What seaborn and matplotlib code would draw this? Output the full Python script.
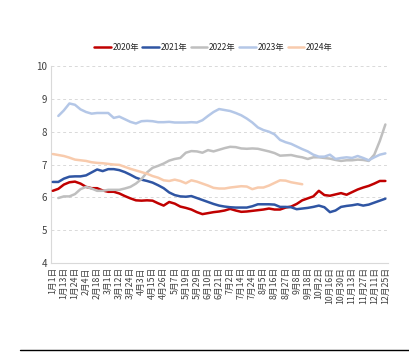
import numpy as np
import pandas as pd
import matplotlib
matplotlib.use("Agg")
import matplotlib.pyplot as plt
from matplotlib.lines import Line2D
import seaborn as sns

tick_labels = ["1月1日", "1月13日", "1月24日", "2月4日", "2月18日", "3月1日", "3月12日", "3月24日",
               "4月3日", "4月15日", "4月26日", "5月7日", "5月19日", "5月29日", "6月10日", "6月21日",
               "7月2日", "7月14日", "7月24日", "8月5日", "8月16日", "8月27日", "9月8日", "9月18日",
               "10月2日", "10月16日", "10月30日", "11月13日", "11月27日", "12月11日", "12月25日"]

nan = np.nan
y2020 = [6.20, 6.26, 6.39, 6.46, 6.48, 6.42, 6.32, 6.28, 6.28, 6.21, 6.17, 6.17, 6.12, 6.04, 5.97, 5.91,
         5.90, 5.91, 5.90, 5.82, 5.75, 5.86, 5.81, 5.72, 5.68, 5.63, 5.55, 5.49, 5.52, 5.55, 5.57, 5.60,
         5.65, 5.60, 5.56, 5.57, 5.59, 5.61, 5.63, 5.66, 5.63, 5.63, 5.69, 5.72, 5.80, 5.91, 5.97, 6.03,
         6.20, 6.07, 6.05, 6.09, 6.13, 6.08, 6.16, 6.24, 6.30, 6.35, 6.42, 6.50, 6.50]
y2021 = [6.47, 6.47, 6.57, 6.63, 6.64, 6.64, 6.67, 6.76, 6.85, 6.80, 6.86, 6.86, 6.83, 6.77, 6.69, 6.60,
         6.54, 6.50, 6.45, 6.37, 6.28, 6.15, 6.07, 6.03, 6.02, 6.04, 5.98, 5.92, 5.86, 5.80, 5.75, 5.72,
         5.70, 5.69, 5.69, 5.69, 5.73, 5.79, 5.79, 5.79, 5.78, 5.71, 5.71, 5.70, 5.64, 5.66, 5.68, 5.71,
         5.75, 5.70, 5.55, 5.60, 5.71, 5.74, 5.76, 5.79, 5.75, 5.78, 5.84, 5.90, 5.96]
y2022 = [nan, 5.98, 6.03, 6.03, 6.10, 6.25, 6.32, 6.27, 6.20, 6.20, 6.23, 6.23, 6.23, 6.27, 6.32, 6.42,
         6.56, 6.76, 6.90, 6.96, 7.03, 7.12, 7.17, 7.20, 7.36, 7.41, 7.40, 7.36, 7.44, 7.40, 7.45, 7.50,
         7.54, 7.53, 7.49, 7.48, 7.49, 7.48, 7.44, 7.40, 7.35, 7.27, 7.28, 7.29, 7.25, 7.22, 7.17, 7.22,
         7.22, 7.20, 7.18, 7.14, 7.11, 7.13, 7.13, 7.15, 7.14, 7.11, 7.30, 7.72, 8.22]
y2023 = [nan, 8.48, 8.65, 8.86, 8.82, 8.68, 8.60, 8.55, 8.57, 8.57, 8.57, 8.42, 8.46, 8.38, 8.30, 8.25,
         8.32, 8.33, 8.32, 8.29, 8.29, 8.30, 8.28, 8.28, 8.28, 8.29, 8.28, 8.35, 8.48, 8.60, 8.69, 8.66,
         8.63, 8.57, 8.50, 8.40, 8.28, 8.13, 8.05, 8.00, 7.92, 7.75, 7.68, 7.63, 7.55, 7.47, 7.40, 7.30,
         7.24, 7.24, 7.30, 7.17, 7.20, 7.22, 7.20, 7.26, 7.20, 7.13, 7.22, 7.30, 7.34]
y2024 = [7.32, 7.29, 7.26, 7.21, 7.15, 7.13, 7.11, 7.07, 7.05, 7.04, 7.02, 7.00, 6.99, 6.93, 6.87, 6.82,
         6.77, 6.72, 6.65, 6.60, 6.52, 6.50, 6.54, 6.50, 6.43, 6.52, 6.48, 6.42, 6.36, 6.29, 6.27, 6.27,
         6.30, 6.32, 6.34, 6.33, 6.25, 6.30, 6.30, 6.36, 6.44, 6.52, 6.51, 6.46, 6.43, 6.40] + [nan] * 15

series_names = ["2020年", "2021年", "2022年", "2023年", "2024年"]
series_values = [y2020, y2021, y2022, y2023, y2024]
colors = ["#C00000", "#2F55A3", "#BFBFBF", "#B4C7E7", "#F8CBAD"]

rows = []
for name, vals in zip(series_names, series_values):
    for i, v in enumerate(vals):
        rows.append({"idx": i, "value": v, "year": name})
df = pd.DataFrame(rows)

sns.set_style("white")
plt.rcParams['font.family'] = ['Noto Sans CJK SC', 'DejaVu Sans']

fig = plt.figure(figsize=(4.09, 3.55), dpi=100)
ax = fig.add_axes([0.125, 0.259, 0.824, 0.555])

sns.lineplot(data=df, x="idx", y="value", hue="year", hue_order=series_names,
             palette=dict(zip(series_names, colors)), linewidth=1.8, ax=ax, legend=False,
             zorder=3)

ax.set_xlim(-0.3, 60.5)
ax.set_ylim(4, 10)
ax.set_yticks(range(4, 11))
ax.set_yticklabels([str(v) for v in range(4, 11)], fontsize=7, color="#404040")
ax.set_xticks(range(0, 61, 2))
ax.set_xticklabels(tick_labels, rotation=90, fontsize=6.3, color="#404040")
ax.tick_params(axis="both", length=0, pad=3)
ax.set_xlabel("")
ax.set_ylabel("")
ax.grid(axis="y", linestyle=(0, (3, 3)), color="#D9D9D9", linewidth=0.7)
ax.grid(axis="x", visible=False)
for s in ["top", "right"]:
    ax.spines[s].set_visible(False)
for s in ["left", "bottom"]:
    ax.spines[s].set_color("#D9D9D9")
    ax.spines[s].set_linewidth(0.8)

handles = [Line2D([0], [0], color=c, lw=1.8) for c in colors]
fig.legend(handles, series_names, loc="center", bbox_to_anchor=(0.522, 0.866), ncol=5,
           frameon=False, fontsize=6, handlelength=2.0, handletextpad=0.2, columnspacing=0.4)

fig.add_artist(Line2D([0.05, 1.0], [0.014, 0.014], color="black", lw=1.0))

fig.savefig("out.png", dpi=100)
